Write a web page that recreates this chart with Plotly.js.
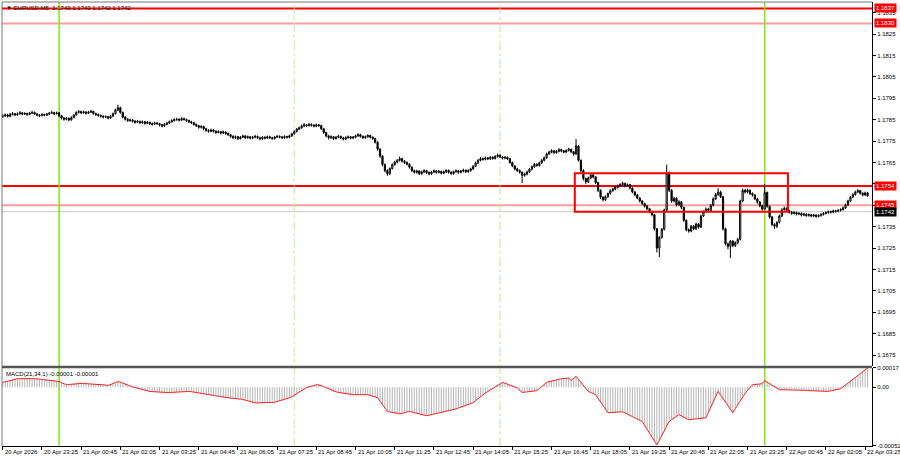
<!DOCTYPE html>
<html>
<head>
<meta charset="utf-8">
<script src="https://cdn.plot.ly/plotly-3.0.1.min.js"></script>
<style>html,body{margin:0;padding:0;background:#fff;}#chart{width:900px;height:460px;}</style>
</head>
<body>
<div id="chart"></div>
<script>
// ---- DATA (EURUSD M5, 20 Apr 22:05 -> 22 Apr 03:30) ----
const opens = [
1.17865,1.17868,1.17872,1.17866,1.17874,1.17878,1.17873,1.17877,1.17882,1.17876,
1.17879,1.17874,1.17880,1.17884,1.17877,1.17872,1.17869,1.17874,1.17871,1.17876,
1.17880,1.17883,1.17878,1.17882,1.17868,1.17858,1.17852,1.17856,1.17849,1.17860,
1.17872,1.17884,1.17888,1.17882,1.17886,1.17880,1.17885,1.17889,1.17878,1.17874,
1.17870,1.17866,1.17862,1.17864,1.17858,1.17866,1.17878,1.17896,1.17906,1.17884,
1.17862,1.17852,1.17846,1.17848,1.17843,1.17838,1.17842,1.17836,1.17840,1.17833,
1.17838,1.17831,1.17829,1.17835,1.17832,1.17826,1.17821,1.17828,1.17834,1.17840,
1.17845,1.17850,1.17852,1.17848,1.17855,1.17851,1.17846,1.17840,1.17836,1.17828,
1.17822,1.17815,1.17818,1.17808,1.17800,1.17796,1.17802,1.17796,1.17790,1.17794,
1.17788,1.17792,1.17786,1.17780,1.17772,1.17766,1.17770,1.17762,1.17768,1.17774,
1.17766,1.17770,1.17764,1.17768,1.17772,1.17766,1.17761,1.17768,1.17764,1.17770,
1.17766,1.17762,1.17768,1.17772,1.17769,1.17766,1.17771,1.17768,1.17774,1.17784,
1.17795,1.17806,1.17812,1.17820,1.17826,1.17822,1.17828,1.17824,1.17820,1.17826,
1.17822,1.17808,1.17790,1.17774,1.17766,1.17770,1.17762,1.17768,1.17772,1.17765,
1.17760,1.17766,1.17770,1.17764,1.17768,1.17774,1.17780,1.17772,1.17766,1.17770,
1.17776,1.17768,1.17762,1.17745,1.17712,1.17680,1.17640,1.17612,1.17598,1.17622,
1.17640,1.17652,1.17660,1.17668,1.17656,1.17650,1.17642,1.17628,1.17612,1.17604,
1.17610,1.17598,1.17606,1.17612,1.17603,1.17597,1.17605,1.17611,1.17604,1.17608,
1.17600,1.17606,1.17613,1.17604,1.17598,1.17607,1.17611,1.17604,1.17609,1.17614,
1.17607,1.17612,1.17620,1.17632,1.17648,1.17660,1.17668,1.17665,1.17672,1.17667,
1.17674,1.17669,1.17678,1.17684,1.17676,1.17670,1.17674,1.17668,1.17650,1.17634,
1.17620,1.17612,1.17604,1.17590,1.17596,1.17606,1.17618,1.17630,1.17642,1.17636,
1.17648,1.17660,1.17672,1.17690,1.17698,1.17705,1.17696,1.17702,1.17710,1.17704,
1.17699,1.17706,1.17712,1.17700,1.17690,1.17728,1.17660,1.17612,1.17575,1.17560,
1.17578,1.17592,1.17582,1.17556,1.17520,1.17488,1.17476,1.17490,1.17505,1.17518,
1.17526,1.17534,1.17540,1.17546,1.17552,1.17540,1.17546,1.17530,1.17512,1.17498,
1.17484,1.17470,1.17458,1.17446,1.17434,1.17420,1.17406,1.17340,1.17250,1.17300,
1.17338,1.17428,1.17600,1.17520,1.17470,1.17482,1.17452,1.17466,1.17440,1.17380,
1.17336,1.17330,1.17352,1.17340,1.17362,1.17348,1.17400,1.17420,1.17432,1.17426,
1.17450,1.17480,1.17500,1.17512,1.17490,1.17340,1.17270,1.17258,1.17282,1.17262,
1.17275,1.17290,1.17470,1.17520,1.17512,1.17520,1.17505,1.17498,1.17480,1.17465,
1.17448,1.17432,1.17510,1.17445,1.17395,1.17360,1.17352,1.17370,1.17400,1.17430,
1.17436,1.17425,1.17418,1.17412,1.17416,1.17409,1.17412,1.17404,1.17408,1.17402,
1.17406,1.17400,1.17404,1.17398,1.17402,1.17407,1.17412,1.17416,1.17420,1.17418,
1.17424,1.17422,1.17426,1.17430,1.17438,1.17452,1.17470,1.17488,1.17500,1.17512,
1.17518,1.17506,1.17498,1.17508
];
const highs = [
1.17876,1.17879,1.17877,1.17881,1.17886,1.17882,1.17884,1.17890,1.17886,1.17885,
1.17883,1.17887,1.17891,1.17888,1.17881,1.17876,1.17880,1.17878,1.17882,1.17886,
1.17892,1.17887,1.17888,1.17885,1.17872,1.17862,1.17863,1.17860,1.17866,1.17876,
1.17889,1.17895,1.17892,1.17893,1.17890,1.17891,1.17896,1.17892,1.17883,1.17879,
1.17874,1.17871,1.17870,1.17868,1.17872,1.17883,1.17901,1.17920,1.17911,1.17888,
1.17866,1.17857,1.17855,1.17853,1.17848,1.17849,1.17846,1.17847,1.17844,1.17844,
1.17841,1.17837,1.17841,1.17839,1.17836,1.17830,1.17834,1.17840,1.17846,1.17852,
1.17857,1.17859,1.17856,1.17862,1.17860,1.17855,1.17850,1.17845,1.17840,1.17832,
1.17826,1.17824,1.17822,1.17812,1.17805,1.17808,1.17806,1.17800,1.17801,1.17798,
1.17799,1.17796,1.17790,1.17784,1.17777,1.17776,1.17774,1.17774,1.17780,1.17778,
1.17776,1.17774,1.17774,1.17779,1.17776,1.17770,1.17773,1.17772,1.17776,1.17775,
1.17770,1.17774,1.17778,1.17777,1.17774,1.17777,1.17775,1.17780,1.17789,1.17800,
1.17811,1.17818,1.17827,1.17834,1.17830,1.17835,1.17832,1.17829,1.17832,1.17830,
1.17826,1.17812,1.17794,1.17779,1.17777,1.17774,1.17774,1.17779,1.17776,1.17770,
1.17772,1.17776,1.17774,1.17774,1.17780,1.17787,1.17784,1.17776,1.17776,1.17782,
1.17779,1.17772,1.17766,1.17749,1.17716,1.17684,1.17646,1.17618,1.17627,1.17646,
1.17658,1.17666,1.17678,1.17672,1.17661,1.17655,1.17647,1.17632,1.17617,1.17616,
1.17613,1.17612,1.17619,1.17616,1.17608,1.17611,1.17617,1.17615,1.17615,1.17612,
1.17612,1.17619,1.17617,1.17609,1.17612,1.17618,1.17615,1.17615,1.17621,1.17618,
1.17618,1.17626,1.17638,1.17654,1.17666,1.17675,1.17673,1.17678,1.17676,1.17680,
1.17679,1.17684,1.17692,1.17688,1.17680,1.17680,1.17678,1.17672,1.17654,1.17638,
1.17625,1.17617,1.17608,1.17602,1.17612,1.17624,1.17636,1.17648,1.17646,1.17654,
1.17666,1.17678,1.17696,1.17705,1.17712,1.17709,1.17709,1.17717,1.17714,1.17708,
1.17712,1.17719,1.17715,1.17704,1.17760,1.17732,1.17664,1.17618,1.17580,1.17584,
1.17598,1.17597,1.17586,1.17560,1.17524,1.17492,1.17496,1.17510,1.17524,1.17532,
1.17540,1.17547,1.17553,1.17560,1.17556,1.17552,1.17550,1.17534,1.17516,1.17503,
1.17488,1.17474,1.17462,1.17451,1.17438,1.17425,1.17410,1.17344,1.17306,1.17344,
1.17434,1.17640,1.17608,1.17526,1.17490,1.17488,1.17474,1.17470,1.17444,1.17384,
1.17342,1.17358,1.17358,1.17368,1.17368,1.17406,1.17426,1.17440,1.17438,1.17456,
1.17487,1.17508,1.17530,1.17518,1.17494,1.17346,1.17276,1.17288,1.17288,1.17282,
1.17298,1.17476,1.17528,1.17526,1.17528,1.17524,1.17510,1.17503,1.17485,1.17470,
1.17452,1.17548,1.17514,1.17449,1.17400,1.17366,1.17376,1.17406,1.17436,1.17444,
1.17440,1.17429,1.17423,1.17422,1.17420,1.17418,1.17416,1.17414,1.17412,1.17412,
1.17410,1.17410,1.17408,1.17408,1.17413,1.17418,1.17422,1.17426,1.17425,1.17430,
1.17429,1.17432,1.17436,1.17444,1.17458,1.17476,1.17494,1.17507,1.17518,1.17526,
1.17522,1.17511,1.17514,1.17512
];
const lows = [
1.17858,1.17863,1.17860,1.17862,1.17870,1.17867,1.17869,1.17874,1.17871,1.17872,
1.17868,1.17871,1.17876,1.17873,1.17866,1.17862,1.17865,1.17866,1.17867,1.17872,
1.17877,1.17872,1.17874,1.17862,1.17851,1.17845,1.17847,1.17843,1.17846,1.17856,
1.17868,1.17879,1.17876,1.17878,1.17874,1.17876,1.17881,1.17873,1.17868,1.17864,
1.17860,1.17856,1.17857,1.17852,1.17854,1.17862,1.17874,1.17890,1.17878,1.17856,
1.17846,1.17840,1.17840,1.17837,1.17832,1.17834,1.17830,1.17831,1.17827,1.17829,
1.17825,1.17822,1.17825,1.17826,1.17819,1.17814,1.17817,1.17824,1.17830,1.17836,
1.17841,1.17845,1.17842,1.17844,1.17846,1.17840,1.17834,1.17830,1.17822,1.17815,
1.17808,1.17809,1.17801,1.17793,1.17789,1.17791,1.17790,1.17784,1.17786,1.17781,
1.17783,1.17779,1.17773,1.17765,1.17759,1.17760,1.17755,1.17757,1.17764,1.17760,
1.17761,1.17758,1.17759,1.17763,1.17760,1.17754,1.17756,1.17758,1.17760,1.17760,
1.17756,1.17757,1.17764,1.17763,1.17760,1.17761,1.17762,1.17764,1.17770,1.17780,
1.17790,1.17801,1.17808,1.17815,1.17816,1.17818,1.17818,1.17814,1.17815,1.17817,
1.17802,1.17784,1.17768,1.17758,1.17760,1.17755,1.17757,1.17763,1.17759,1.17753,
1.17755,1.17761,1.17758,1.17759,1.17763,1.17770,1.17767,1.17760,1.17761,1.17765,
1.17762,1.17756,1.17739,1.17705,1.17672,1.17632,1.17604,1.17588,1.17592,1.17617,
1.17635,1.17646,1.17654,1.17650,1.17643,1.17636,1.17622,1.17605,1.17598,1.17598,
1.17591,1.17592,1.17601,1.17597,1.17590,1.17592,1.17600,1.17598,1.17599,1.17594,
1.17595,1.17601,1.17598,1.17591,1.17593,1.17602,1.17598,1.17599,1.17604,1.17601,
1.17602,1.17607,1.17615,1.17628,1.17643,1.17655,1.17659,1.17660,1.17661,1.17662,
1.17663,1.17664,1.17673,1.17670,1.17664,1.17665,1.17662,1.17644,1.17628,1.17613,
1.17606,1.17598,1.17554,1.17584,1.17590,1.17601,1.17613,1.17625,1.17630,1.17631,
1.17643,1.17655,1.17667,1.17685,1.17693,1.17690,1.17691,1.17697,1.17698,1.17693,
1.17694,1.17701,1.17694,1.17682,1.17686,1.17654,1.17604,1.17566,1.17550,1.17554,
1.17572,1.17576,1.17549,1.17512,1.17480,1.17468,1.17470,1.17485,1.17500,1.17513,
1.17520,1.17529,1.17535,1.17541,1.17534,1.17535,1.17524,1.17506,1.17492,1.17478,
1.17463,1.17451,1.17439,1.17427,1.17413,1.17398,1.17332,1.17230,1.17208,1.17294,
1.17332,1.17420,1.17512,1.17462,1.17464,1.17445,1.17446,1.17432,1.17372,1.17328,
1.17322,1.17324,1.17333,1.17334,1.17341,1.17344,1.17395,1.17414,1.17419,1.17421,
1.17445,1.17475,1.17494,1.17484,1.17332,1.17262,1.17244,1.17204,1.17254,1.17255,
1.17268,1.17286,1.17464,1.17505,1.17506,1.17498,1.17491,1.17474,1.17458,1.17441,
1.17425,1.17428,1.17438,1.17388,1.17353,1.17340,1.17344,1.17365,1.17395,1.17425,
1.17419,1.17412,1.17406,1.17407,1.17403,1.17404,1.17398,1.17399,1.17396,1.17397,
1.17394,1.17395,1.17392,1.17393,1.17397,1.17402,1.17407,1.17411,1.17412,1.17413,
1.17416,1.17417,1.17421,1.17425,1.17433,1.17447,1.17465,1.17483,1.17495,1.17507,
1.17500,1.17492,1.17493,1.17489
];
const closes = [
1.17868,1.17872,1.17866,1.17874,1.17878,1.17873,1.17877,1.17882,1.17876,1.17879,
1.17874,1.17880,1.17884,1.17877,1.17872,1.17869,1.17874,1.17871,1.17876,1.17880,
1.17883,1.17878,1.17882,1.17868,1.17858,1.17852,1.17856,1.17849,1.17860,1.17872,
1.17884,1.17888,1.17882,1.17886,1.17880,1.17885,1.17889,1.17878,1.17874,1.17870,
1.17866,1.17862,1.17864,1.17858,1.17866,1.17878,1.17896,1.17906,1.17884,1.17862,
1.17852,1.17846,1.17848,1.17843,1.17838,1.17842,1.17836,1.17840,1.17833,1.17838,
1.17831,1.17829,1.17835,1.17832,1.17826,1.17821,1.17828,1.17834,1.17840,1.17845,
1.17850,1.17852,1.17848,1.17855,1.17851,1.17846,1.17840,1.17836,1.17828,1.17822,
1.17815,1.17818,1.17808,1.17800,1.17796,1.17802,1.17796,1.17790,1.17794,1.17788,
1.17792,1.17786,1.17780,1.17772,1.17766,1.17770,1.17762,1.17768,1.17774,1.17766,
1.17770,1.17764,1.17768,1.17772,1.17766,1.17761,1.17768,1.17764,1.17770,1.17766,
1.17762,1.17768,1.17772,1.17769,1.17766,1.17771,1.17768,1.17774,1.17784,1.17795,
1.17806,1.17812,1.17820,1.17826,1.17822,1.17828,1.17824,1.17820,1.17826,1.17822,
1.17808,1.17790,1.17774,1.17766,1.17770,1.17762,1.17768,1.17772,1.17765,1.17760,
1.17766,1.17770,1.17764,1.17768,1.17774,1.17780,1.17772,1.17766,1.17770,1.17776,
1.17768,1.17762,1.17745,1.17712,1.17680,1.17640,1.17612,1.17598,1.17622,1.17640,
1.17652,1.17660,1.17668,1.17656,1.17650,1.17642,1.17628,1.17612,1.17604,1.17610,
1.17598,1.17606,1.17612,1.17603,1.17597,1.17605,1.17611,1.17604,1.17608,1.17600,
1.17606,1.17613,1.17604,1.17598,1.17607,1.17611,1.17604,1.17609,1.17614,1.17607,
1.17612,1.17620,1.17632,1.17648,1.17660,1.17668,1.17665,1.17672,1.17667,1.17674,
1.17669,1.17678,1.17684,1.17676,1.17670,1.17674,1.17668,1.17650,1.17634,1.17620,
1.17612,1.17604,1.17590,1.17596,1.17606,1.17618,1.17630,1.17642,1.17636,1.17648,
1.17660,1.17672,1.17690,1.17698,1.17705,1.17696,1.17702,1.17710,1.17704,1.17699,
1.17706,1.17712,1.17700,1.17690,1.17728,1.17660,1.17612,1.17575,1.17560,1.17578,
1.17592,1.17582,1.17556,1.17520,1.17488,1.17476,1.17490,1.17505,1.17518,1.17526,
1.17534,1.17540,1.17546,1.17552,1.17540,1.17546,1.17530,1.17512,1.17498,1.17484,
1.17470,1.17458,1.17446,1.17434,1.17420,1.17406,1.17340,1.17250,1.17300,1.17338,
1.17428,1.17600,1.17520,1.17470,1.17482,1.17452,1.17466,1.17440,1.17380,1.17336,
1.17330,1.17352,1.17340,1.17362,1.17348,1.17400,1.17420,1.17432,1.17426,1.17450,
1.17480,1.17500,1.17512,1.17490,1.17340,1.17270,1.17258,1.17282,1.17262,1.17275,
1.17290,1.17470,1.17520,1.17512,1.17520,1.17505,1.17498,1.17480,1.17465,1.17448,
1.17432,1.17510,1.17445,1.17395,1.17360,1.17352,1.17370,1.17400,1.17430,1.17436,
1.17425,1.17418,1.17412,1.17416,1.17409,1.17412,1.17404,1.17408,1.17402,1.17406,
1.17400,1.17404,1.17398,1.17402,1.17407,1.17412,1.17416,1.17420,1.17418,1.17424,
1.17422,1.17426,1.17430,1.17438,1.17452,1.17470,1.17488,1.17500,1.17512,1.17518,
1.17506,1.17498,1.17508,1.17495
];
// MACD(21,34,1) main = signal, per bar
const macdValues = [
42e-6,48e-6,54e-6,60e-6,65e-6,70e-6,75e-6,
76e-6,77e-6,77e-6,76e-6,76e-6,75e-6,75e-6,75e-6,
72e-6,68e-6,66e-6,64e-6,61e-6,58e-6,56e-6,53e-6,51e-6,
40e-6,30e-6,22e-6,24e-6,27e-6,29e-6,31e-6,
33e-6,34e-6,33e-6,32e-6,31e-6,31e-6,30e-6,29e-6,28e-6,27e-6,
23e-6,19e-6,16e-6,22e-6,32e-6,42e-6,49e-6,
44e-6,37e-6,31e-6,22e-6,12e-6,2e-6,
-4e-6,-10e-6,-16e-6,-22e-6,-27e-6,-32e-6,-37e-6,
-39e-6,-41e-6,-43e-6,-45e-6,-47e-6,-48e-6,-49e-6,
-48e-6,-46e-6,-44e-6,-42e-6,-40e-6,-38e-6,-37e-6,-36e-6,-37e-6,
-40e-6,-43e-6,-46e-6,-49e-6,-52e-6,-55e-6,-58e-6,
-62e-6,-67e-6,-72e-6,-76e-6,-80e-6,-84e-6,-89e-6,-93e-6,
-95e-6,-97e-6,-98e-6,-99e-6,-101e-6,-102e-6,
-108e-6,-115e-6,-122e-6,-130e-6,-137e-6,
-138e-6,-139e-6,-139e-6,-138e-6,-138e-6,-137e-6,-137e-6,-137e-6,
-133e-6,-127e-6,-121e-6,-114e-6,-108e-6,-102e-6,
-93e-6,-84e-6,
-70e-6,-56e-6,-42e-6,-28e-6,-15e-6,-4e-6,
3e-6,10e-6,16e-6,22e-6,
20e-6,16e-6,
6e-6,-4e-6,-15e-6,-26e-6,-37e-6,
-41e-6,-46e-6,-50e-6,-54e-6,-58e-6,-62e-6,-66e-6,
-66e-6,-66e-6,-65e-6,-65e-6,-66e-6,-66e-6,-66e-6,
-72e-6,-79e-6,-86e-6,-93e-6,
-124e-6,-155e-6,-185e-6,-214e-6,
-219e-6,-224e-6,-229e-6,-232e-6,-235e-6,
-230e-6,-224e-6,-219e-6,-214e-6,
-219e-6,-225e-6,-230e-6,-236e-6,-241e-6,-247e-6,-252e-6,
-247e-6,-242e-6,-236e-6,-231e-6,-226e-6,
-222e-6,-219e-6,-215e-6,-212e-6,
-206e-6,-199e-6,-192e-6,-184e-6,-176e-6,-168e-6,-160e-6,-152e-6,-145e-6,-137e-6,
-119e-6,-101e-6,-84e-6,-66e-6,
-52e-6,-38e-6,-25e-6,-11e-6,3e-6,16e-6,29e-6,42e-6,
35e-6,27e-6,19e-6,11e-6,3e-6,-7e-6,-27e-6,-46e-6,
-44e-6,-41e-6,-39e-6,-36e-6,-33e-6,-31e-6,
-13e-6,5e-6,24e-6,42e-6,
49e-6,55e-6,62e-6,67e-6,73e-6,75e-6,77e-6,79e-6,81e-6,
60e-6,78e-6,96e-6,
70e-6,43e-6,16e-6,-10e-6,-37e-6,
-47e-6,-57e-6,-66e-6,
-98e-6,-130e-6,-162e-6,-194e-6,-226e-6,
-224e-6,-222e-6,-221e-6,-219e-6,-218e-6,-217e-6,
-228e-6,-239e-6,-250e-6,-260e-6,-271e-6,-282e-6,-292e-6,-303e-6,
-338e-6,-373e-6,-408e-6,-443e-6,-478e-6,-510e-6,
-470e-6,-430e-6,-390e-6,-345e-6,-303e-6,
-288e-6,-273e-6,-258e-6,-243e-6,
-254e-6,-266e-6,-277e-6,-288e-6,
-285e-6,-283e-6,-280e-6,-278e-6,-276e-6,-273e-6,-270e-6,
-223e-6,-177e-6,-130e-6,-84e-6,-37e-6,
-69e-6,-100e-6,-132e-6,-163e-6,-195e-6,-226e-6,
-190e-6,-154e-6,-117e-6,-81e-6,
-55e-6,-29e-6,-3e-6,22e-6,
24e-6,26e-6,28e-6,31e-6,58e-6,
45e-6,31e-6,18e-6,5e-6,-9e-6,-22e-6,
-22e-6,-22e-6,-22e-6,-22e-6,-22e-6,-22e-6,-22e-6,-22e-6,
-24e-6,-26e-6,-28e-6,-30e-6,-31e-6,-33e-6,-35e-6,-37e-6,-38e-6,-40e-6,-42e-6,
-37e-6,-32e-6,-28e-6,-23e-6,-18e-6,-13e-6,
3e-6,20e-6,36e-6,53e-6,69e-6,86e-6,102e-6,
120e-6,138e-6,155e-6,170e-6
];
// time-axis labels (bar index -> text)
const timeLabelIdx = [0,16,32,48,64,80,96,112,128,144,160,176,192,208,224,240,256,272,288,304,320,336,352];
const timeLabels = ["20 Apr 2026","20 Apr 23:25","21 Apr 00:45","21 Apr 02:05","21 Apr 03:25","21 Apr 04:45",
"21 Apr 06:05","21 Apr 07:25","21 Apr 08:45","21 Apr 10:05","21 Apr 11:25","21 Apr 12:45","21 Apr 14:05",
"21 Apr 15:25","21 Apr 16:45","21 Apr 18:05","21 Apr 19:25","21 Apr 20:45","21 Apr 22:05","21 Apr 23:25",
"22 Apr 00:45","22 Apr 02:05","22 Apr 03:25"];
const priceTicks = [1.1675,1.1685,1.1695,1.1705,1.1715,1.1725,1.1735,1.1745,1.1755,1.1765,1.1775,1.1785,1.1795,1.1805,1.1815,1.1825,1.1835];
const priceTickText = ["1.1675","1.1685","1.1695","1.1705","1.1715","1.1725","1.1735","","","1.1765","1.1775","1.1785","1.1795","1.1805","1.1815","1.1825","1.1835"];
const levels = [1.1837, 1.1830, 1.1754, 1.1745];
const levelStrong = [true, false, true, false];
const bidPrice = 1.1742;
const dayStartIdx = [23, 311];       // 21 Apr 00:00, 22 Apr 00:00
const sessionIdx = [119, 203];       // 08:00, 15:00
const zoneBox = {x0: 233.5, x1: 320.5, y0: 1.1742, y1: 1.1760};
const macdTicks = [0.00017, 0, -0.00052];
const macdTickText = ["0.00017", "0.00", "-0.00052"];
const headerText = "\u25BC EURUSD,M5  1.1743 1.1743 1.1742 1.1742";
const macdText = "MACD(21,34,1) -0.00001 -0.00001";

// ---- CHART ----
const FONT = 'Liberation Sans, Arial, sans-serif';
const xs = closes.map((_, i) => i);

const traces = [
  {
    type: 'candlestick', x: xs, open: opens, high: highs, low: lows, close: closes,
    xaxis: 'x', yaxis: 'y',
    increasing: {line: {color: '#000', width: 1}, fillcolor: '#ffffff'},
    decreasing: {line: {color: '#000', width: 1}, fillcolor: '#000000'},
    whiskerwidth: 0, hoverinfo: 'none', showlegend: false
  },
  {
    type: 'bar', x: xs, y: macdValues, xaxis: 'x', yaxis: 'y2',
    marker: {color: '#b4b4b4', line: {width: 0}}, width: 0.4,
    hoverinfo: 'none', showlegend: false
  },
  {
    type: 'scatter', mode: 'lines', x: xs, y: macdValues, xaxis: 'x', yaxis: 'y2',
    line: {color: '#ff2020', width: 1}, hoverinfo: 'none', showlegend: false
  }
];

const mainDom = [0.1802, 1];
const macdDom = [0, 0.1757];

const shapes = [];
levels.forEach((lv, k) => {
  shapes.push({type: 'line', xref: 'paper', yref: 'y', x0: 0, x1: 1, y0: lv, y1: lv,
    line: {color: levelStrong[k] ? '#ff0000' : '#ff9c9c', width: 2}, layer: 'below'});
});
shapes.push({type: 'line', xref: 'paper', yref: 'y', x0: 0, x1: 1, y0: bidPrice, y1: bidPrice,
  line: {color: '#c8c8c8', width: 1}, layer: 'below'});
dayStartIdx.forEach(ix => shapes.push({type: 'line', xref: 'x', yref: 'paper', x0: ix, x1: ix, y0: 0, y1: 1,
  line: {color: '#78f000', width: 1.5}, layer: 'below'}));
sessionIdx.forEach(ix => shapes.push({type: 'line', xref: 'x', yref: 'paper', x0: ix, x1: ix, y0: 0, y1: 1,
  line: {color: '#b4f08c', width: 1, dash: 'dashdot'}, layer: 'below'}));
shapes.push({type: 'rect', xref: 'x', yref: 'y', x0: zoneBox.x0, x1: zoneBox.x1, y0: zoneBox.y0, y1: zoneBox.y1,
  line: {color: '#ff0000', width: 2}, fillcolor: 'rgba(0,0,0,0)'});
shapes.push({type: 'line', xref: 'paper', yref: 'paper', x0: 0, x1: 0, y0: 0, y1: 1, line: {color: '#777', width: 1}});
shapes.push({type: 'line', xref: 'paper', yref: 'paper', x0: 0, x1: 1, y0: 1, y1: 1, line: {color: '#777', width: 1}});
shapes.push({type: 'line', xref: 'paper', yref: 'paper', x0: 0, x1: 1, y0: 0.1782, y1: 0.1782, line: {color: '#555', width: 2.5}});

const annotations = [];
timeLabelIdx.forEach((ix, k) => annotations.push({
  xref: 'x', yref: 'paper', x: ix, y: 0, xanchor: 'left', yanchor: 'top', xshift: 0, yshift: -1,
  text: timeLabels[k], showarrow: false, font: {family: FONT, size: 6, color: '#000'}
}));
levels.forEach((lv, k) => annotations.push({
  xref: 'paper', yref: 'y', x: 1, y: lv, xanchor: 'left', yanchor: 'middle', xshift: 2,
  text: lv.toFixed(4), showarrow: false, bgcolor: '#ff0000', borderpad: 1,
  font: {family: FONT, size: 6, color: '#fff'}
}));
annotations.push({
  xref: 'paper', yref: 'y', x: 1, y: bidPrice, xanchor: 'left', yanchor: 'middle', xshift: 2,
  text: bidPrice.toFixed(4), showarrow: false, bgcolor: '#000', borderpad: 1,
  font: {family: FONT, size: 6, color: '#fff'}
});
annotations.push({xref: 'paper', yref: 'paper', x: 0.002, y: 1, xanchor: 'left', yanchor: 'top', yshift: -1,
  text: headerText, showarrow: false, font: {family: FONT, size: 6, color: '#000'}});
annotations.push({xref: 'paper', yref: 'paper', x: 0.002, y: macdDom[1], xanchor: 'left', yanchor: 'top', yshift: -1,
  text: macdText, showarrow: false, font: {family: FONT, size: 6, color: '#000'}});

const layout = {
  width: 900, height: 460,
  margin: {l: 2, r: 28, t: 2, b: 14, pad: 0},
  paper_bgcolor: '#ffffff', plot_bgcolor: '#ffffff',
  showlegend: false, hovermode: false, dragmode: false,
  font: {family: FONT, size: 6, color: '#000'},
  xaxis: {
    domain: [0, 1], range: [-0.3, 354.8], anchor: 'y2', type: 'linear',
    showgrid: false, zeroline: false, showline: true, linecolor: '#000', linewidth: 1,
    ticks: 'outside', ticklen: 3, tickcolor: '#000', tickvals: timeLabelIdx, showticklabels: false,
    rangeslider: {visible: false}, fixedrange: true
  },
  yaxis: {
    domain: mainDom, range: [1.16699, 1.18400], side: 'right', anchor: 'x',
    showgrid: false, zeroline: false, showline: true, linecolor: '#000', linewidth: 1,
    ticks: 'outside', ticklen: 3, tickcolor: '#000', tickvals: priceTicks, ticktext: priceTickText,
    tickfont: {family: FONT, size: 6, color: '#000'}, fixedrange: true
  },
  yaxis2: {
    domain: macdDom, range: [-0.00052, 0.00017], side: 'right', anchor: 'x',
    showgrid: false, zeroline: false, showline: true, linecolor: '#000', linewidth: 1,
    ticks: 'outside', ticklen: 3, tickcolor: '#000', tickvals: macdTicks, ticktext: macdTickText,
    tickfont: {family: FONT, size: 6, color: '#000'}, fixedrange: true
  },
  shapes: shapes,
  annotations: annotations
};

Plotly.newPlot('chart', traces, layout, {displayModeBar: false, staticPlot: true});
</script>
</body>
</html>
